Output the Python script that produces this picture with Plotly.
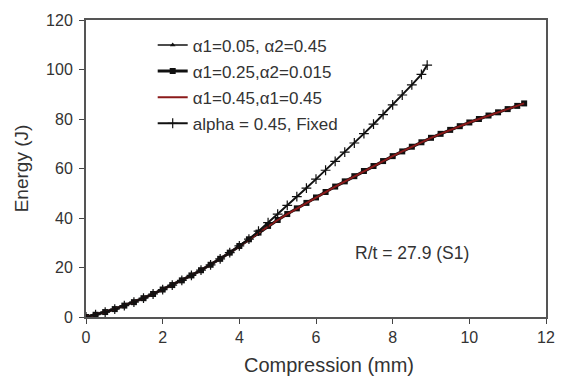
import plotly.graph_objects as go

# Compression (mm) for the three overlapping variable-alpha series
comp_var = [0, 0.25, 0.5, 0.75, 1.0, 1.25, 1.5, 1.75, 2.0, 2.25, 2.5, 2.75, 3.0, 3.25,
            3.5, 3.75, 4.0, 4.25, 4.5, 4.75, 5.0, 5.25, 5.5, 5.75, 6.0, 6.25, 6.5,
            6.75, 7.0, 7.25, 7.5, 7.75, 8.0, 8.25, 8.5, 8.75, 9.0, 9.25, 9.5, 9.75,
            10.0, 10.25, 10.5, 10.75, 11.0, 11.25, 11.43]
energy_a1_005 = [0, 0.9, 2.0, 3.2, 4.6, 6.0, 7.6, 9.3, 11.1, 12.9, 14.8, 16.8, 18.9, 21.1,
                 23.5, 26.0, 28.7, 31.4, 34.1, 36.7, 39.2, 41.6, 43.9, 46.1, 48.3, 50.5,
                 52.7, 54.8, 56.9, 59.0, 61.0, 63.0, 65.0, 66.9, 68.8, 70.6, 72.4, 74.0,
                 75.6, 77.1, 78.6, 80.0, 81.4, 82.7, 84.0, 85.3, 86.3]
energy_a1_025 = [0, 0.9, 2.0, 3.2, 4.6, 6.0, 7.6, 9.3, 11.1, 12.9, 14.8, 16.8, 18.9, 21.1,
                 23.5, 26.0, 28.7, 31.4, 34.1, 36.8, 39.2, 41.6, 43.9, 46.1, 48.3, 50.5,
                 52.7, 54.8, 56.9, 59.0, 61.0, 63.0, 65.0, 66.9, 68.8, 70.6, 72.4, 74.0,
                 75.6, 77.1, 78.6, 80.0, 81.4, 82.7, 84.0, 85.3, 86.3]
energy_a1_045 = [0, 0.9, 2.0, 3.2, 4.6, 6.0, 7.6, 9.3, 11.1, 12.9, 14.8, 16.8, 18.9, 21.1,
                 23.5, 26.0, 28.7, 31.4, 34.1, 36.8, 39.2, 41.6, 43.9, 46.1, 48.3, 50.5,
                 52.7, 54.8, 56.9, 59.0, 61.0, 63.0, 65.0, 66.9, 68.8, 70.6, 72.4, 74.0,
                 75.6, 77.1, 78.6, 80.0, 81.4, 82.7, 84.0, 85.3, 86.3]

# Fixed alpha series
comp_fixed = [0, 0.25, 0.5, 0.75, 1.0, 1.25, 1.5, 1.75, 2.0, 2.25, 2.5, 2.75, 3.0, 3.25,
              3.5, 3.75, 4.0, 4.25, 4.5, 4.75, 5.0, 5.25, 5.5, 5.75, 6.0, 6.25, 6.5,
              6.75, 7.0, 7.25, 7.5, 7.75, 8.0, 8.25, 8.5, 8.75, 8.9]
energy_fixed = [0, 0.9, 2.0, 3.2, 4.6, 6.0, 7.6, 9.3, 11.1, 12.9, 14.8, 16.8, 18.9, 21.1,
                23.5, 26.0, 28.7, 31.5, 34.7, 38.1, 41.6, 45.1, 48.6, 52.1, 55.7, 59.3,
                62.9, 66.6, 70.3, 74.1, 77.9, 81.8, 85.7, 89.7, 93.8, 98.0, 101.8]

names = ["\u03b11=0.05, \u03b12=0.45", "\u03b11=0.25,\u03b12=0.015",
         "\u03b11=0.45,\u03b11=0.45", "alpha = 0.45, Fixed"]

x_ticks = [0, 2, 4, 6, 8, 10, 12]
y_ticks = [0, 20, 40, 60, 80, 100, 120]

annot_text = "R/t = 27.9 (S1)"
x_title = "Compression (mm)"
y_title = "Energy (J)"

FONT = "Liberation Sans, Arial, sans-serif"
TXT = "#333333"

fig = go.Figure()
fig.add_trace(go.Scatter(x=comp_var, y=energy_a1_005, name=names[0], mode="lines+markers",
                         line=dict(color="#111111", width=1.5),
                         marker=dict(symbol="triangle-up", size=5, color="#111111"),
                         legendgroup="g1"))
fig.add_trace(go.Scatter(x=comp_var, y=energy_a1_025, name=names[1], mode="lines+markers",
                         line=dict(color="#111111", width=3),
                         marker=dict(symbol="square", size=6, color="#111111"),
                         legendgroup="g2"))
fig.add_trace(go.Scatter(x=comp_var, y=energy_a1_045, name=names[2], mode="lines",
                         line=dict(color="#8b1a1a", width=2),
                         legendgroup="g3"))
fig.add_trace(go.Scatter(x=comp_fixed, y=energy_fixed, name=names[3], mode="lines+markers",
                         line=dict(color="#111111", width=2),
                         marker=dict(symbol="cross-thin", size=7,
                                     line=dict(color="#111111", width=1.2)),
                         legendgroup="g4"))

fig.add_annotation(x=8.5, y=25.9, text=annot_text, showarrow=False,
                   font=dict(family=FONT, size=17.5, color=TXT))
fig.add_annotation(xref="paper", yref="paper", x=0.529, y=-0.162, text=x_title,
                   showarrow=False, xanchor="center", yanchor="middle",
                   font=dict(family=FONT, size=20, color=TXT))

fig.update_layout(
    width=562, height=378,
    margin=dict(l=86, r=7, t=20, b=61),
    paper_bgcolor="white", plot_bgcolor="white",
    font=dict(family=FONT, size=16, color=TXT),
    showlegend=True,
    legend=dict(x=0.145, y=0.975, xanchor="left", yanchor="top",
                bgcolor="rgba(0,0,0,0)", tracegroupgap=1,
                font=dict(family=FONT, size=17, color=TXT)),
    xaxis=dict(range=[0, 12], tickvals=x_ticks, ticks="outside", ticklen=5,
               tickcolor="#444", showgrid=False, zeroline=False,
               showline=True, linecolor="#555", linewidth=2, mirror=True,
               tickfont=dict(size=16, color=TXT)),
    yaxis=dict(range=[0, 120], tickvals=y_ticks, ticks="outside", ticklen=5,
               tickcolor="#444", showgrid=False, zeroline=False,
               showline=True, linecolor="#555", linewidth=2, mirror=True,
               ticklabelstandoff=3,
               title=dict(text=y_title, font=dict(size=19, color=TXT), standoff=12),
               tickfont=dict(size=16, color=TXT)),
)

fig.write_html("out.html")
